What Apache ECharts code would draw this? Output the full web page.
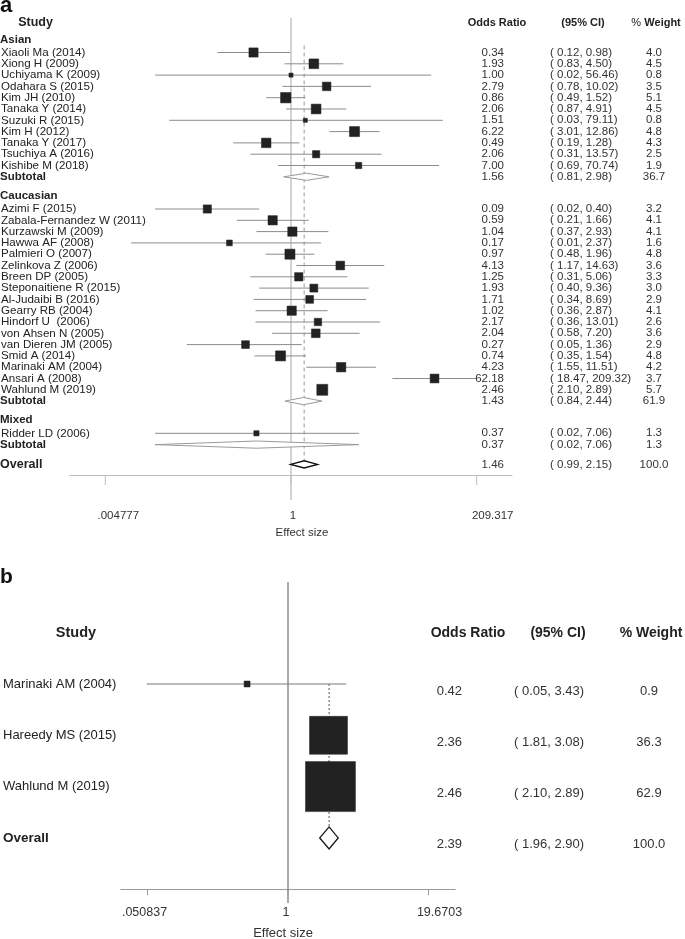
<!DOCTYPE html>
<html><head><meta charset="utf-8">
<script src="https://cdn.jsdelivr.net/npm/echarts@6/dist/echarts.min.js"></script>
<style>html,body{margin:0;padding:0;background:#fff}#c{width:685px;height:939px}</style>
</head><body><div id="c"></div>
<script>
// ---------------- Panel a data ----------------
const asianStudies = ['Xiaoli Ma (2014)','Xiong H (2009)','Uchiyama K (2009)','Odahara S (2015)','Kim JH (2010)','Tanaka Y (2014)','Suzuki R (2015)','Kim H (2012)','Tanaka Y (2017)','Tsuchiya A (2016)','Kishibe M (2018)'];
const asianOR = [0.34,1.93,1.00,2.79,0.86,2.06,1.51,6.22,0.49,2.06,7.00];
const asianLow = [0.12,0.83,0.02,0.78,0.49,0.87,0.03,3.01,0.19,0.31,0.69];
const asianHigh = [0.98,4.50,56.46,10.02,1.52,4.91,79.11,12.86,1.28,13.57,70.74];
const asianWeight = [4.0,4.5,0.8,3.5,5.1,4.5,0.8,4.8,4.3,2.5,1.9];
const asianSubtotal = [1.56,0.81,2.98,36.7];

const caucasianStudies = ['Azimi F (2015)','Zabala-Fernandez W (2011)','Kurzawski M (2009)','Hawwa AF (2008)','Palmieri O (2007)','Zelinkova Z (2006)','Breen DP (2005)','Steponaitiene R (2015)','Al-Judaibi B (2016)','Gearry RB (2004)','Hindorf U  (2006)','von Ahsen N (2005)','van Dieren JM (2005)','Smid A (2014)','Marinaki AM (2004)','Ansari A (2008)','Wahlund M (2019)'];
const caucasianOR = [0.09,0.59,1.04,0.17,0.97,4.13,1.25,1.93,1.71,1.02,2.17,2.04,0.27,0.74,4.23,62.18,2.46];
const caucasianLow = [0.02,0.21,0.37,0.01,0.48,1.17,0.31,0.40,0.34,0.36,0.36,0.58,0.05,0.35,1.55,18.47,2.10];
const caucasianHigh = [0.40,1.66,2.93,2.37,1.96,14.63,5.06,9.36,8.69,2.87,13.01,7.20,1.36,1.54,11.51,209.32,2.89];
const caucasianWeight = [3.2,4.1,4.1,1.6,4.8,3.6,3.3,3.0,2.9,4.1,2.6,3.6,2.9,4.8,4.2,3.7,5.7];
const caucasianSubtotal = [1.43,0.84,2.44,61.9];

const mixedStudies = ['Ridder LD (2006)'];
const mixedOR = [0.37];
const mixedLow = [0.02];
const mixedHigh = [7.06];
const mixedWeight = [1.3];
const mixedSubtotal = [0.37,0.02,7.06,1.3];

const overallA = [1.46,0.99,2.15,100.0];
const ticksA = [0.004777,1,209.317];
const tickLabelsA = ['.004777','1','209.317'];

// ---------------- Panel b data ----------------
const studiesB = ['Marinaki AM (2004)','Hareedy MS (2015)','Wahlund M (2019)'];
const orB = [0.42,2.36,2.46];
const lowB = [0.05,1.81,2.10];
const highB = [3.43,3.08,2.89];
const weightB = [0.9,36.3,62.9];
const overallB = [2.39,1.96,2.90,100.0];
const ticksB = [0.050837,1,19.6703];
const tickLabelsB = ['.050837','1','19.6703'];

const headers = ['Study','Odds Ratio','(95% CI)','% Weight'];

// ---------------- build rows ----------------
function rowsA() {
  const groups = [
    {label:'Asian', names:asianStudies, or:asianOR, lo:asianLow, hi:asianHigh, w:asianWeight, sub:asianSubtotal},
    {label:'Caucasian', names:caucasianStudies, or:caucasianOR, lo:caucasianLow, hi:caucasianHigh, w:caucasianWeight, sub:caucasianSubtotal},
    {label:'Mixed', names:mixedStudies, or:mixedOR, lo:mixedLow, hi:mixedHigh, w:mixedWeight, sub:mixedSubtotal}
  ];
  const rows = [];
  let p = -1.15;
  groups.forEach((g, gi) => {
    if (gi > 0) p += 1.7;
    rows.push({kind:'group', name:g.label, pos:p});
    p += 1.15;
    g.names.forEach((n, i) => {
      rows.push({kind:'study', name:n, or:g.or[i], lo:g.lo[i], hi:g.hi[i], w:g.w[i], pos:p});
      p += 1;
    });
    rows.push({kind:'subtotal', name:'Subtotal', or:g.sub[0], lo:g.sub[1], hi:g.sub[2], w:g.sub[3], pos:p});
  });
  p += 1.75;
  rows.push({kind:'overall', name:'Overall', or:overallA[0], lo:overallA[1], hi:overallA[2], w:overallA[3], pos:p});
  return rows;
}
function rowsB() {
  const rows = studiesB.map((n, i) => ({kind:'study', name:n, or:orB[i], lo:lowB[i], hi:highB[i], w:weightB[i], pos:i}));
  rows.push({kind:'overall', name:'Overall', or:overallB[0], lo:overallB[1], hi:overallB[2], w:overallB[3], pos:studiesB.length});
  return rows;
}

const FONT = 'Liberation Sans, Arial, Helvetica, sans-serif';

const panels = [
  {
    rows: rowsA(), ticks: ticksA, tickLabels: tickLabelsA,
    grid: {left:70, top:18, width:442, height:457},
    yMin: -3.053, yMax: 37.389, headerPos: -2.61,
    boxK: 4.6, diamondHalf: 3.6,
    ciColor:'#8c8c8c', refColor:'#a8a8a8', dashColor:'#9a9a9a', dash:[4,3], axisColor:'#bdbdbd',
    tickLen: 10, refExt: 25, tickLabelDy: 41, tickLabelDx: [13,2,16],
    dashStartDy: -7,
    nameX: 1, groupX: 0, orX: 504, ciX: 550, wX: 654,
    hStudyX: 35.5, hOrX: 497, hCiX: 583, hWX: 656,
    nameFont: 11.6, valFont: 11.5, hFont: 11, studyHFont: 12.5, overallFont: 12.5, subFont: 11.5,
    valDy: 0, tickFont: 11.5, weightRich: true
  },
  {
    rows: rowsB(), ticks: ticksB, tickLabels: tickLabelsB,
    grid: {left:120.8, top:582, width:334.4, height:307},
    yMin: -1.988, yMax: 3.996, headerPos: -1,
    boxK: 6.3, diamondHalf: 11,
    ciColor:'#7a7a7a', refColor:'#555555', dashColor:'#555555', dash:[2,2], axisColor:'#9a9a9a',
    tickLen: 6, refExt: 14, tickLabelDy: 24, tickLabelDx: [-3,-2,11],
    dashStartDy: 0,
    nameX: 3, groupX: 3, orX: 462, ciX: 514, wX: 649,
    hStudyX: 76, hOrX: 468, hCiX: 558, hWX: 651,
    nameFont: 13, valFont: 13, hFont: 14, studyHFont: 14.5, overallFont: 13.5, subFont: 13,
    valDy: 7, tickFont: 12.5, weightRich: false
  }
];

function xExtent(ticks) {
  const a = Math.log10(ticks[0]), b = Math.log10(ticks[ticks.length-1]);
  const c = (a+b)/2, h = (b-a)/2*1.19;
  return [Math.pow(10, c-h), Math.pow(10, c+h)];
}

const grids = [], xAxes = [], yAxes = [], series = [];
panels.forEach((P, gi) => {
  grids.push(P.grid);
  const ext = xExtent(P.ticks);
  xAxes.push({type:'log', gridIndex:gi, min:ext[0], max:ext[1], logBase:10, position:'bottom',
    axisLine:{show:true, onZero:false, lineStyle:{color:P.axisColor, width:1}},
    axisTick:{show:false}, axisLabel:{show:false}, splitLine:{show:false}});
  yAxes.push({type:'value', gridIndex:gi, inverse:true, min:P.yMin, max:P.yMax, show:false});

  const overall = P.rows.find(r => r.kind === 'overall');
  const firstStudy = P.rows.find(r => r.kind === 'study');

  // reference line at 1 and dashed line at overall effect
  series.push({
    type:'custom', xAxisIndex:gi, yAxisIndex:gi, silent:true, z:1,
    data:[[1, overall.or, firstStudy.pos, overall.pos]],
    encode:{x:[0,1], y:[2,3]},
    renderItem:(params, api) => {
      const cs = params.coordSys;
      const x1 = api.coord([api.value(0), api.value(2)])[0];
      const top = api.coord([api.value(1), api.value(2)]);
      const bot = api.coord([api.value(1), api.value(3)]);
      return {type:'group', children:[
        {type:'line', shape:{x1:x1, y1:cs.y, x2:x1, y2:cs.y+cs.height+P.refExt}, style:{stroke:P.refColor, lineWidth:1}},
        {type:'line', shape:{x1:top[0], y1:top[1]+P.dashStartDy, x2:bot[0], y2:bot[1]-P.diamondHalf}, style:{stroke:P.dashColor, lineWidth:1, lineDash:P.dash}}
      ]};
    }
  });

  // study CIs and boxes
  const studies = P.rows.filter(r => r.kind === 'study');
  series.push({
    type:'custom', xAxisIndex:gi, yAxisIndex:gi, silent:true, z:3,
    data: studies.map(r => [r.or, r.lo, r.hi, r.w, r.pos]),
    encode:{x:[0,1,2], y:4},
    renderItem:(params, api) => {
      const y = api.value(4);
      const c = api.coord([api.value(0), y]);
      const l = api.coord([api.value(1), y]);
      const h = api.coord([api.value(2), y]);
      const s = P.boxK * Math.sqrt(api.value(3));
      return {type:'group', children:[
        {type:'line', shape:{x1:l[0], y1:l[1], x2:h[0], y2:h[1]}, style:{stroke:P.ciColor, lineWidth:1}},
        {type:'rect', shape:{x:c[0]-s/2, y:c[1]-s/2, width:s, height:s}, style:{fill:'#222222', stroke:'#222222', lineWidth:0.5}}
      ]};
    }
  });

  // diamonds for subtotals / overall
  const pooled = P.rows.filter(r => r.kind === 'subtotal' || r.kind === 'overall');
  series.push({
    type:'custom', xAxisIndex:gi, yAxisIndex:gi, silent:true, z:4,
    data: pooled.map(r => [r.or, r.lo, r.hi, r.pos, r.kind === 'overall' ? 1 : 0]),
    encode:{x:[0,1,2], y:3},
    renderItem:(params, api) => {
      const y = api.value(3);
      const c = api.coord([api.value(0), y]);
      const l = api.coord([api.value(1), y]);
      const h = api.coord([api.value(2), y]);
      const d = P.diamondHalf;
      const isOverall = api.value(4) === 1;
      return {type:'polygon', shape:{points:[[l[0],c[1]],[c[0],c[1]-d],[h[0],c[1]],[c[0],c[1]+d]]},
        style:{fill:'#ffffff', stroke:isOverall ? '#111111' : '#9a9a9a', lineWidth:isOverall ? 1.3 : 1}};
    }
  });

  // ticks and tick labels
  series.push({
    type:'custom', xAxisIndex:gi, yAxisIndex:gi, silent:true, z:2,
    data: P.ticks.map((t, i) => [t, P.yMax, i]),
    encode:{x:0, y:1},
    renderItem:(params, api) => {
      const p = api.coord([api.value(0), api.value(1)]);
      const i = api.value(2);
      return {type:'group', children:[
        {type:'line', shape:{x1:p[0], y1:p[1], x2:p[0], y2:p[1]+P.tickLen}, style:{stroke:P.axisColor, lineWidth:1}},
        {type:'text', x:p[0]+P.tickLabelDx[i], y:p[1]+P.tickLabelDy,
          style:{text:P.tickLabels[i], font:P.tickFont+'px '+FONT, fill:'#333333', align:'center', verticalAlign:'middle'}}
      ]};
    }
  });

  // table text
  series.push({
    type:'custom', xAxisIndex:gi, yAxisIndex:gi, silent:true, z:5,
    data: P.rows.map(r => [1, r.pos]),
    encode:{x:0, y:1},
    renderItem:(params, api) => {
      const r = P.rows[params.dataIndex];
      const y = api.coord([1, api.value(1)])[1];
      const ch = [];
      const txt = (x, yy, text, size, bold, align, color) => ({type:'text', x:x, y:yy,
        style:{text:text, font:(bold ? 'bold ' : '') + size + 'px ' + FONT, fill:color || '#222222', align:align, verticalAlign:'middle'}});
      if (r.kind === 'group') {
        ch.push(txt(P.groupX, y, r.name, P.subFont, true, 'left'));
      } else {
        if (r.kind === 'study') ch.push(txt(P.nameX, y, r.name, P.nameFont, false, 'left'));
        else if (r.kind === 'subtotal') ch.push(txt(P.groupX, y, r.name, P.subFont, true, 'left'));
        else ch.push(txt(P.groupX, y, r.name, P.overallFont, true, 'left'));
        const vy = y + P.valDy;
        ch.push(txt(P.orX, vy, r.or.toFixed(2), P.valFont, false, 'right', '#333333'));
        ch.push(txt(P.ciX, vy, '( ' + r.lo.toFixed(2) + ', ' + r.hi.toFixed(2) + ')', P.valFont, false, 'left', '#333333'));
        ch.push(txt(P.wX, vy, r.w.toFixed(1), P.valFont, false, 'center', '#333333'));
      }
      return {type:'group', children:ch};
    }
  });

  // header row
  series.push({
    type:'custom', xAxisIndex:gi, yAxisIndex:gi, silent:true, z:5,
    data: [[1, P.headerPos]],
    encode:{x:0, y:1},
    renderItem:(params, api) => {
      const y = api.coord([1, api.value(1)])[1];
      const bf = 'bold ' + P.hFont + 'px ' + FONT;
      const wText = P.weightRich
        ? {type:'text', x:P.hWX, y:y, style:{text:'{p|%} {w|Weight}', align:'center', verticalAlign:'middle', fill:'#222222',
            rich:{p:{font:P.hFont+'px '+FONT, fill:'#222222'}, w:{font:bf, fill:'#222222'}}}}
        : {type:'text', x:P.hWX, y:y, style:{text:headers[3], font:bf, fill:'#222222', align:'center', verticalAlign:'middle'}};
      return {type:'group', children:[
        {type:'text', x:P.hStudyX, y:y, style:{text:headers[0], font:'bold '+P.studyHFont+'px '+FONT, fill:'#222222', align:'center', verticalAlign:'middle'}},
        {type:'text', x:P.hOrX, y:y, style:{text:headers[1], font:bf, fill:'#222222', align:'center', verticalAlign:'middle'}},
        {type:'text', x:P.hCiX, y:y, style:{text:headers[2], font:bf, fill:'#222222', align:'center', verticalAlign:'middle'}},
        wText
      ]};
    }
  });
});

const chart = echarts.init(document.getElementById('c'), null, {renderer:'canvas'});
chart.setOption({
  animation:false,
  backgroundColor:'#ffffff',
  grid: grids,
  xAxis: xAxes,
  yAxis: yAxes,
  series: series,
  graphic: [
    {type:'text', left:0, top:-5, style:{text:'a', font:'bold 22px '+FONT, fill:'#111111'}},
    {type:'text', left:0, top:567, style:{text:'b', font:'bold 21px '+FONT, fill:'#111111'}},
    {type:'text', x:302, y:533, style:{text:'Effect size', font:'11.5px '+FONT, fill:'#333333', align:'center', verticalAlign:'middle'}},
    {type:'text', x:283, y:933, style:{text:'Effect size', font:'13px '+FONT, fill:'#333333', align:'center', verticalAlign:'middle'}}
  ]
});
</script>
</body></html>
